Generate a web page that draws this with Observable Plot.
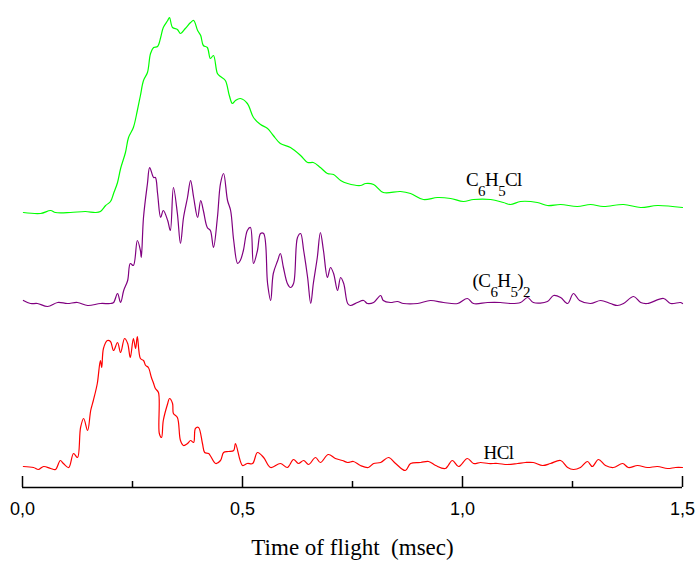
<!DOCTYPE html>
<html><head><meta charset="utf-8">
<script src="https://cdn.jsdelivr.net/npm/d3@7"></script>
<script src="https://cdn.jsdelivr.net/npm/@observablehq/plot@0.6"></script>
<style>html,body{margin:0;padding:0;background:#fff}</style>
</head><body><div id="chart"></div>
<script>
// Time of flight (msec) and signal (arbitrary units, above each trace's own baseline)
const c6h5clTime = [0.002,0.041,0.064,0.075,0.109,0.143,0.166,0.177,0.189,0.200,0.207,0.216,0.223,0.234,0.241,0.252,0.261,0.268,0.275,0.284,0.291,0.298,0.307,0.314,0.320,0.330,0.334,0.341,0.352,0.359,0.370,0.382,0.389,0.398,0.405,0.411,0.420,0.427,0.434,0.443,0.450,0.461,0.470,0.477,0.484,0.495,0.511,0.525,0.541,0.557,0.570,0.586,0.609,0.632,0.648,0.661,0.677,0.693,0.707,0.723,0.739,0.768,0.780,0.798,0.820,0.859,0.882,0.911,0.943,0.973,1.002,1.025,1.064,1.093,1.109,1.132,1.170,1.193,1.223,1.261,1.291,1.320,1.366,1.405,1.443,1.500];
const c6h5clSignal = [1,0,3,1,1,2,1,2,8,12,20,31,45,61,76,86,103,118,133,141,160,166,167,176,186,193,196,186,184,180,185,191,193,183,178,168,166,155,158,140,137,133,118,110,113,115,110,96,89,85,78,70,66,58,51,51,46,40,39,33,30,28,30,29,21,22,20,14,16,15,12,14,14,11,9,12,11,8,9,7,9,7,9,6,8,6];

const biphenylTime = [0.002,0.018,0.034,0.057,0.080,0.102,0.125,0.148,0.177,0.200,0.207,0.216,0.223,0.230,0.239,0.245,0.252,0.261,0.268,0.270,0.275,0.284,0.289,0.298,0.302,0.307,0.314,0.320,0.330,0.336,0.343,0.352,0.359,0.366,0.375,0.382,0.389,0.398,0.405,0.411,0.420,0.427,0.434,0.443,0.450,0.457,0.466,0.473,0.480,0.489,0.495,0.502,0.511,0.518,0.525,0.534,0.541,0.548,0.557,0.564,0.570,0.580,0.586,0.593,0.602,0.609,0.616,0.625,0.632,0.639,0.648,0.655,0.661,0.670,0.677,0.684,0.693,0.700,0.707,0.716,0.723,0.730,0.739,0.745,0.761,0.775,0.784,0.798,0.814,0.820,0.836,0.852,0.866,0.898,0.927,0.957,0.989,1.011,1.025,1.057,1.086,1.109,1.132,1.148,1.161,1.193,1.207,1.223,1.239,1.252,1.266,1.291,1.314,1.336,1.352,1.366,1.389,1.405,1.420,1.457,1.473,1.495,1.500];
const biphenylSignal = [3,0,0,-3,1,0,1,-2,0,0,1,10,1,13,23,40,38,63,53,46,86,120,136,126,126,110,86,93,83,73,116,90,60,86,106,123,106,86,103,93,76,73,56,86,120,130,103,93,63,40,43,53,73,76,40,53,70,70,20,3,30,43,50,36,20,16,20,66,70,53,26,0,20,46,71,53,26,36,30,13,26,20,0,-2,1,3,0,1,8,3,1,2,0,0,3,1,0,5,0,1,1,0,1,6,1,2,8,6,0,10,3,0,3,0,-2,0,7,1,0,5,0,1,0];

const hclTime = [0.002,0.025,0.036,0.048,0.064,0.075,0.086,0.093,0.105,0.116,0.125,0.132,0.139,0.148,0.155,0.161,0.170,0.177,0.180,0.184,0.193,0.200,0.207,0.216,0.223,0.232,0.239,0.245,0.252,0.257,0.261,0.268,0.275,0.280,0.286,0.293,0.298,0.302,0.309,0.311,0.316,0.320,0.330,0.334,0.341,0.343,0.352,0.359,0.366,0.375,0.382,0.389,0.393,0.400,0.409,0.414,0.423,0.439,0.450,0.457,0.468,0.480,0.484,0.500,0.511,0.523,0.534,0.548,0.564,0.586,0.602,0.616,0.627,0.639,0.650,0.666,0.677,0.695,0.711,0.727,0.739,0.752,0.768,0.786,0.798,0.814,0.832,0.848,0.870,0.882,0.905,0.923,0.939,0.961,0.977,0.991,1.011,1.025,1.041,1.059,1.080,1.102,1.125,1.143,1.161,1.182,1.200,1.223,1.239,1.252,1.268,1.284,1.295,1.309,1.325,1.343,1.364,1.377,1.398,1.420,1.443,1.466,1.484,1.500];
const hclSignal = [1,0,-2,1,-1,-2,7,4,0,14,10,40,49,37,57,67,84,107,100,119,127,126,117,125,115,129,124,110,129,119,131,109,107,102,100,90,84,79,75,34,30,47,64,69,64,54,50,27,22,24,27,25,39,40,24,15,14,4,7,15,16,17,24,2,4,4,15,10,0,4,0,8,4,7,3,10,5,13,9,7,5,6,2,0,4,5,10,4,-3,4,5,6,2,-1,7,1,9,4,5,4,4,3,4,5,5,2,4,7,0,-2,0,6,1,8,2,0,4,0,2,0,1,-1,0,0];

const seriesNames = ["C_6H_5Cl", "(C_6H_5)_2", "HCl"];
const xTicks = [0, 0.5, 1.0, 1.5];
const xMinorTicks = [0.25, 0.75, 1.25];
const axisTitle = "Time of flight  (msec)";

// presentation: vertical offsets of each trace, colours, label anchor times
const series = [
  {name: seriesNames[0], time: c6h5clTime, signal: c6h5clSignal, offset: 274, color: "#00ff00", labelTime: 1.008, dy: -34},
  {name: seriesNames[1], time: biphenylTime, signal: biphenylSignal, offset: 184, color: "#800080", labelTime: 1.023, dy: -23},
  {name: seriesNames[2], time: hclTime, signal: hclSignal, offset: 20, color: "#ff0000", labelTime: 1.048, dy: -15}
];

const lineMarks = series.map(s =>
  Plot.line(s.time.map((t, i) => ({t, y: s.offset + s.signal[i]})),
    {x: "t", y: "y", stroke: s.color, strokeWidth: 1.2, curve: "catmull-rom", strokeLinejoin: "round"})
);
const labelMarks = series.map(s =>
  Plot.text([s.name], {x: () => s.labelTime, y: () => s.offset, dy: s.dy, textAnchor: "start",
    fontFamily: "Liberation Serif, Times New Roman, serif", fontSize: 19, fill: "#000",
    ariaDescription: "series-label"})
);

const chart = Plot.plot({
  width: 699, height: 569,
  marginLeft: 22, marginRight: 17, marginTop: 17, marginBottom: 82,
  style: {fontFamily: "Liberation Sans, Arial, sans-serif", background: "#fff"},
  x: {domain: [0, 1.5]},
  y: {domain: [0, 470], axis: null},
  marks: [
    ...lineMarks,
    ...labelMarks,
    Plot.ruleY([0], {stroke: "#000", strokeWidth: 1.5}),
    Plot.ruleX(xTicks, {stroke: "#000", strokeWidth: 1.5, insetTop: 459}),
    Plot.ruleX(xMinorTicks, {stroke: "#000", strokeWidth: 1.5, insetTop: 464}),
    Plot.axisX(xTicks, {tickSize: 0, tickPadding: 15, fontSize: 18, fill: "#000",
      tickFormat: d => d.toFixed(1).replace(".", ","), label: null}),
    Plot.text([axisTitle], {frameAnchor: "bottom", dy: 67, fontSize: 23,
      fontFamily: "Liberation Serif, Times New Roman, serif", fill: "#000"})
  ]
});

document.getElementById("chart").appendChild(chart);

// subscripts in chemical formulas
d3.select(chart).selectAll("g[aria-description='series-label'] text").each(function() {
  const el = d3.select(this);
  const s = this.textContent;
  el.text(null).attr("dy", null).attr("letter-spacing", "-0.6");
  const parts = s.split(/_(\d)/);
  let shifted = false;
  parts.forEach((p, i) => {
    if (!p) return;
    const sub = i % 2 === 1;
    const ts = el.append("tspan").text(p);
    if (sub && !shifted) { ts.attr("dy", 10).attr("font-size", 15); shifted = true; }
    else if (sub) { ts.attr("font-size", 15); }
    else if (shifted) { ts.attr("dy", -10); shifted = false; }
  });
});
</script></body></html>
